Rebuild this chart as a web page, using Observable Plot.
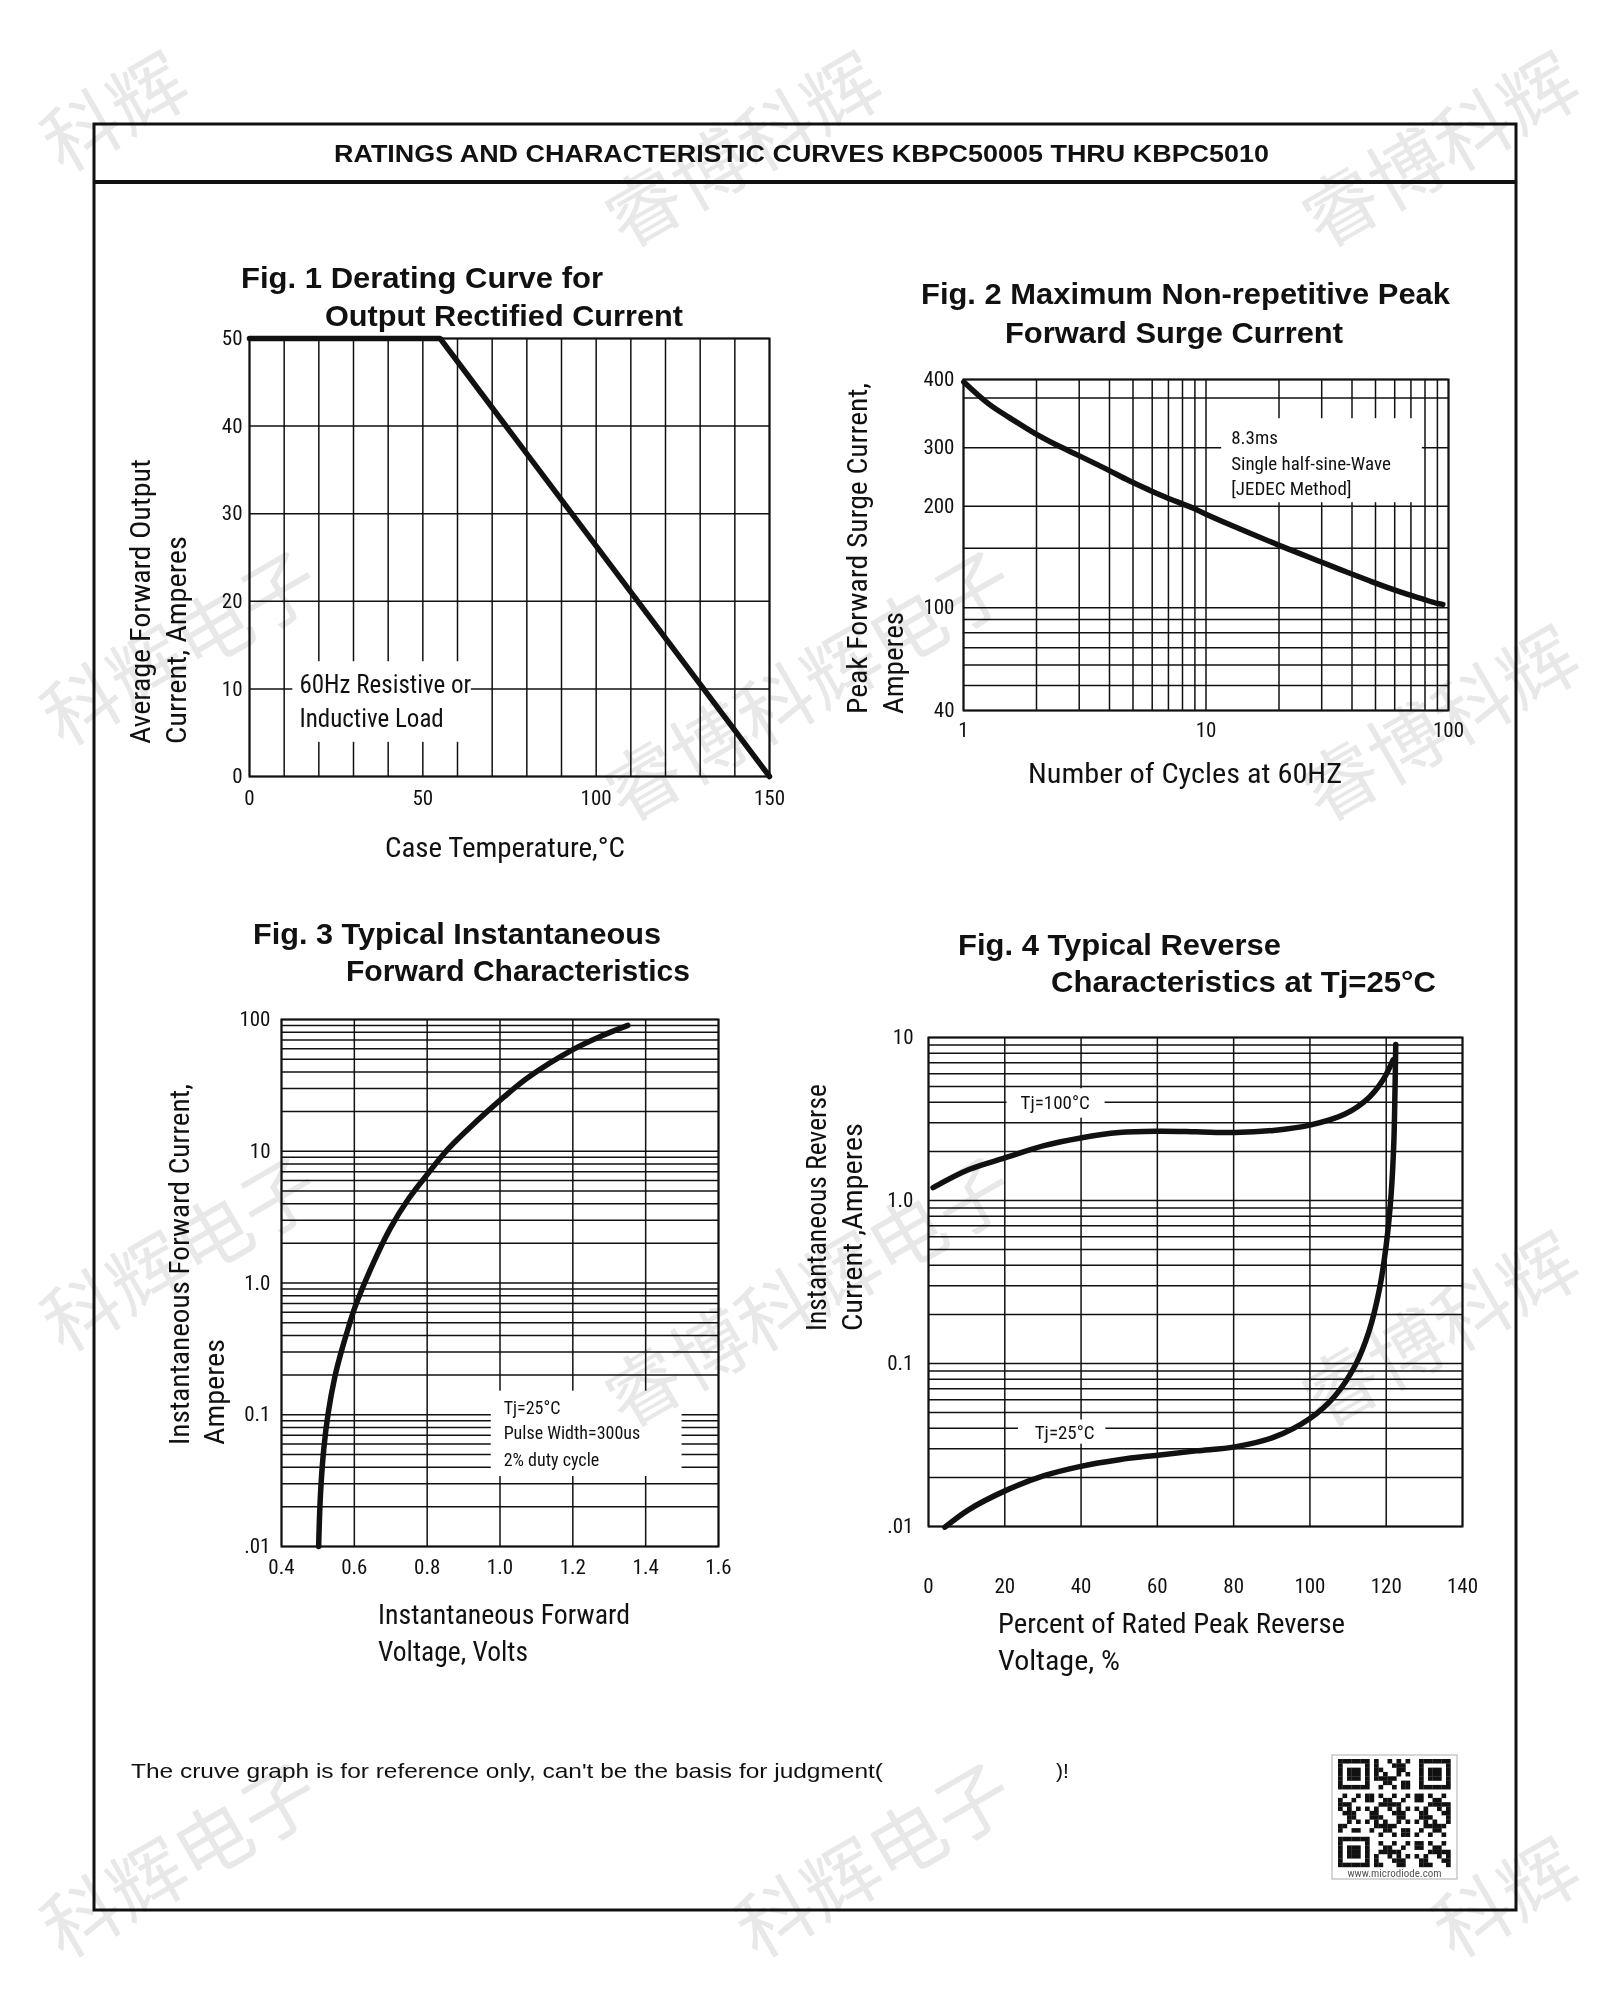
<!DOCTYPE html>
<html><head><meta charset="utf-8">
<script src="https://cdn.jsdelivr.net/npm/d3@7"></script>
<script src="https://cdn.jsdelivr.net/npm/@observablehq/plot@0.6"></script>
<style>
body{margin:0;background:#fff;}
#page{position:relative;width:1601px;height:2000px;background:#fff;overflow:hidden;}
#page svg{position:absolute;}
</style></head><body><div id="page"></div>
<script>
// ---------------- DATA ----------------
// Fig. 1 Derating curve
const fig1Temp = [0, 55, 150];
const fig1Current = [50, 50, 0];
const fig1XGrid = [0,10,20,30,40,50,60,70,80,90,100,110,120,130,140,150];
const fig1YGrid = [0,10,20,30,40,50];
const fig1XTicks = [0,50,100,150];
const fig1YTicks = [0,10,20,30,40,50];

// Fig. 2 Surge current
const fig2Cycles = [1.003,1.27,1.54,1.96,2.40,2.99,3.85,4.80,5.82,6.82,7.94,8.93,10,13.0,19.7,29.9,38.0,47.5,57.8,67.9,78.9,89,94.8];
const fig2Surge = [396,361,341,319,304,284,259.5,239,224,213,203.7,196.9,189.4,174.4,153.9,136.6,127.6,120,113.9,109.5,105.9,103.2,102.3];
const fig2XGrid = [1,2,3,4,5,6,7,8,9,10,20,30,40,50,60,70,80,90,100];
const fig2YGrid = [40,50,60,70,80,90,100,150,200,300,370,400];
const fig2XTicks = [1,10,100];
const fig2YTicks = [40,100,200,300,400];
const fig2YBreaks = [40,100,200,300,400];

// Fig. 3 Forward characteristics
const fig3Voltage = [0.502,0.507,0.516,0.528,0.546,0.565,0.583,0.601,0.649,0.699,0.749,0.798,0.859,0.932,0.999,1.078,1.200,1.280,1.351];
const fig3Current = [0.010,0.0248,0.0546,0.102,0.191,0.307,0.452,0.647,1.355,2.61,4.36,6.55,10.5,16.5,24.2,36.4,59.0,75.2,90.2];
const fig3XGrid = [0.4,0.6,0.8,1.0,1.2,1.4,1.6];
const fig3YGrid = [0.01,0.02,0.03,0.04,0.05,0.06,0.07,0.08,0.09,
                   0.1,0.2,0.3,0.4,0.5,0.6,0.7,0.8,0.9,
                   1,2,3,4,5,6,7,8,9,
                   10,20,30,40,50,60,70,80,90,100];
const fig3XTicks = [0.4,0.6,0.8,1.0,1.2,1.4,1.6];
const fig3XTickLabels = ["0.4","0.6","0.8","1.0","1.2","1.4","1.6"];
const fig3YTicks = [0.01,0.1,1,10,100];
const fig3YTickLabels = [".01","0.1","1.0","10","100"];

// Fig. 4 Reverse characteristics
const fig4Percent100 = [1.2,10.6,20.2,30.3,39.9,50,60.1,70.2,80.3,90.4,100,109.2,115.5,119.1,121.8];
const fig4Current100 = [1.20,1.55,1.83,2.17,2.42,2.61,2.66,2.64,2.61,2.69,2.90,3.39,4.29,5.46,7.30];
const fig4Percent25 = [4.3,10.6,20.2,30.3,39.9,50,60.1,70.2,80.3,90.4,100,106.5,111.9,115.5,118.2,120,121.3,122,122.3,122.5];
const fig4Current25 = [0.0099,0.0127,0.0166,0.0205,0.0234,0.0257,0.0274,0.0291,0.0308,0.0352,0.046,0.063,0.0975,0.158,0.284,0.532,1.10,2.28,4.72,9.07];
const fig4XGrid = [0,20,40,60,80,100,120,140];
const fig4YGrid = [0.01,0.02,0.03,0.04,0.05,0.06,0.07,0.08,0.09,
                   0.1,0.2,0.3,0.4,0.5,0.6,0.7,0.8,0.9,
                   1,2,3,4,5,6,7,8,9,10];
const fig4XTicks = [0,20,40,60,80,100,120,140];
const fig4YTicks = [0.01,0.1,1,10];
const fig4YTickLabels = [".01","0.1","1.0","10"];

// ---------------- RENDER ----------------
const page = document.getElementById("page");
const FONT = '"Liberation Sans Narrow","Arial Narrow","Roboto Condensed","DejaVu Sans Condensed","Liberation Sans",sans-serif';
const BFONT = '"Liberation Sans Narrow","Arial Narrow","Liberation Sans",Arial,sans-serif';
const ARIAL = '"Liberation Sans",Arial,sans-serif';
const INK = "#111";

function layout(frame, box) {
  return {
    width: box.w, height: box.h,
    marginLeft: frame.l - box.x, marginRight: box.x + box.w - frame.r,
    marginTop: frame.t - box.y, marginBottom: box.y + box.h - frame.b
  };
}
function addPlot(box, opts) {
  const svg = Plot.plot(opts);
  svg.style.left = box.x + "px";
  svg.style.top = box.y + "px";
  page.appendChild(svg);
  return svg;
}
const baseStyle = {background: "transparent", fontFamily: FONT, fontSize: "21px", color: INK, overflow: "visible"};
const grid = {stroke: INK, strokeWidth: 1.5};
const curve = {stroke: INK, strokeWidth: 5.5, curve: "catmull-rom", strokeLinejoin: "round"};
const zip = (a, b) => a.map((v, i) => ({x: v, y: b[i]}));

// background overlay: border, header, titles, labels, footer, QR
const ov = d3.select(page).append("svg")
  .attr("width", 1601).attr("height", 2000)
  .style("left", "0px").style("top", "0px");
ov.append("rect").attr("x", 94).attr("y", 124).attr("width", 1422).attr("height", 1786)
  .attr("fill", "none").attr("stroke", INK).attr("stroke-width", 3);
ov.append("line").attr("x1", 94).attr("x2", 1516).attr("y1", 182).attr("y2", 182)
  .attr("stroke", INK).attr("stroke-width", 4);

function txt(d) {
  const t = ov.append("text").text(d.t)
    .attr("font-family", d.family || (d.bold ? BFONT : FONT))
    .attr("font-size", d.size)
    .attr("font-weight", d.bold ? "bold" : "normal")
    .attr("fill", INK);
  if (d.rot) t.attr("transform", `translate(${d.x},${d.y}) rotate(-90)`);
  else t.attr("x", d.x).attr("y", d.y);
  if (d.len) t.attr("textLength", d.len).attr("lengthAdjust", "spacingAndGlyphs");
  return t;
}
const texts = [
  {t: "RATINGS AND CHARACTERISTIC CURVES KBPC50005 THRU KBPC5010", x: 334, y: 162, size: 24, bold: true, len: 935, family: ARIAL},
  {t: "Fig. 1 Derating Curve for", x: 241, y: 288, size: 30, bold: true, len: 362},
  {t: "Output Rectified Current", x: 325, y: 326, size: 30, bold: true, len: 358},
  {t: "Fig. 2 Maximum Non-repetitive Peak", x: 921, y: 304, size: 30, bold: true, len: 529},
  {t: "Forward Surge Current", x: 1005, y: 343, size: 30, bold: true, len: 338},
  {t: "Fig. 3 Typical Instantaneous", x: 253, y: 944, size: 30, bold: true, len: 408},
  {t: "Forward Characteristics", x: 346, y: 981, size: 30, bold: true, len: 344},
  {t: "Fig. 4 Typical Reverse", x: 958, y: 955, size: 30, bold: true, len: 323},
  {t: "Characteristics at Tj=25°C", x: 1051, y: 992, size: 30, bold: true, len: 385},
  {t: "Case Temperature,°C", x: 385, y: 857, size: 27, len: 240},
  {t: "Number of Cycles at 60HZ", x: 1028, y: 783, size: 27, len: 314},
  {t: "Instantaneous Forward", x: 378, y: 1624, size: 27, len: 252},
  {t: "Voltage, Volts", x: 378, y: 1661, size: 27, len: 150},
  {t: "Percent of Rated Peak  Reverse", x: 998, y: 1633, size: 27, len: 347},
  {t: "Voltage, %", x: 998, y: 1670, size: 27, len: 122},
  {t: "Average Forward Output", x: 150, y: 744, size: 27, rot: true, len: 285},
  {t: "Current, Amperes", x: 186, y: 744, size: 27, rot: true, len: 208},
  {t: "Peak Forward Surge Current,", x: 867, y: 714, size: 27, rot: true, len: 331},
  {t: "Amperes", x: 903, y: 714, size: 27, rot: true, len: 102},
  {t: "Instantaneous Forward Current,", x: 189, y: 1445, size: 27, rot: true, len: 361},
  {t: "Amperes", x: 224, y: 1445, size: 27, rot: true, len: 106},
  {t: "Instantaneous Reverse", x: 826, y: 1331, size: 27, rot: true, len: 247},
  {t: "Current ,Amperes", x: 862, y: 1331, size: 27, rot: true, len: 208},
  {t: "The cruve graph is for reference only, can't be the basis for judgment(", x: 131, y: 1778, size: 21, len: 752, family: ARIAL},
  {t: ")!", x: 1056, y: 1778, size: 21, family: ARIAL}
];
texts.forEach(txt);

// QR code decoration
const qr = ov.append("g");
qr.append("rect").attr("x", 1332).attr("y", 1755).attr("width", 125).attr("height", 124)
  .attr("fill", "white").attr("stroke", "#bbb").attr("stroke-width", 1.2);
const N = 25, qx = 1338, qy = 1759, ms = 4.5;
const finder = (i, j) => {
  for (const [ci, cj] of [[0,0],[0,N-7],[N-7,0]]) {
    const a = i - ci, b = j - cj;
    if (a >= 0 && a < 7 && b >= 0 && b < 7) {
      return (a === 0 || a === 6 || b === 0 || b === 6 || (a >= 2 && a <= 4 && b >= 2 && b <= 4)) ? 1 : 0;
    }
    if (a >= -1 && a <= 7 && b >= -1 && b <= 7) return 0;
  }
  return -1;
};
for (let i = 0; i < N; i++) for (let j = 0; j < N; j++) {
  let f = finder(i, j);
  if (f === -1) f = ((i * 31 + j * 17 + i * j * 7) % 11) < 5 ? 1 : 0;
  if (f) qr.append("rect").attr("x", qx + j * ms).attr("y", qy + i * ms * 0.96)
    .attr("width", ms + 0.2).attr("height", ms * 0.96 + 0.2).attr("fill", "#111");
}
qr.append("text").text("www.microdiode.com").attr("x", 1394.5).attr("y", 1877)
  .attr("text-anchor", "middle").attr("font-family", FONT).attr("font-size", 11).attr("fill", "#555");

// ---------- Fig. 1 ----------
{
  const frame = {l: 249, r: 769, t: 338, b: 776}, box = {x: 185, y: 320, w: 615, h: 510};
  addPlot(box, {
    ...layout(frame, box), style: baseStyle,
    x: {domain: [0, 150], label: null}, y: {domain: [0, 50], label: null},
    marks: [
      Plot.ruleX(fig1XGrid, grid),
      Plot.ruleY(fig1YGrid, grid),
      Plot.rect([{x1: 12.5, x2: 64, y1: 3.9, y2: 13.1}], {x1: "x1", x2: "x2", y1: "y1", y2: "y2", fill: "white"}),
      Plot.text([{x: 14.4, y: 10.4, t: "60Hz Resistive or"}, {x: 14.4, y: 6.6, t: "Inductive Load"}],
        {x: "x", y: "y", text: "t", textAnchor: "start", fontSize: 25, fill: INK}),
      Plot.frame({stroke: INK, strokeWidth: 2}),
      Plot.line(zip(fig1Temp, fig1Current), {x: "x", y: "y", stroke: INK, strokeWidth: 5.5, strokeLinejoin: "miter"}),
      Plot.axisX(fig1XTicks, {tickSize: 0, tickPadding: 14, label: null, fontSize: 21}),
      Plot.axisY(fig1YTicks, {tickSize: 0, tickPadding: 7, label: null, fontSize: 21})
    ]
  });
}

// ---------- Fig. 2 ----------
{
  const frame = {l: 963, r: 1448, t: 379, b: 710}, box = {x: 900, y: 360, w: 580, h: 400};
  const L = layout(frame, box);
  const yb = L.height - L.marginBottom, H = frame.b - frame.t;
  const breakFrac = [0, 0.3106, 0.617, 0.794, 1];
  addPlot(box, {
    ...L, style: baseStyle,
    x: {type: "log", domain: [1, 100], label: null},
    y: {type: "log", domain: fig2YBreaks, range: breakFrac.map(f => yb - f * H), label: null},
    marks: [
      Plot.ruleX(fig2XGrid, grid),
      Plot.ruleY(fig2YGrid, grid),
      Plot.rect([{x1: 11.6, x2: 78, y1: 205, y2: 339}], {x1: "x1", x2: "x2", y1: "y1", y2: "y2", fill: "white"}),
      Plot.text([{x: 12.7, y: 312, t: "8.3ms"}, {x: 12.7, y: 269, t: "Single half-sine-Wave"}, {x: 12.7, y: 226, t: "[JEDEC Method]"}],
        {x: "x", y: "y", text: "t", textAnchor: "start", fontSize: 19, fill: INK}),
      Plot.frame({stroke: INK, strokeWidth: 2}),
      Plot.line(zip(fig2Cycles, fig2Surge), {x: "x", y: "y", ...curve}),
      Plot.axisX(fig2XTicks, {tickSize: 0, tickPadding: 12, label: null, fontSize: 21, tickFormat: d => String(d)}),
      Plot.axisY(fig2YTicks, {tickSize: 0, tickPadding: 9, label: null, fontSize: 21, tickFormat: d => String(d)})
    ]
  });
}

// ---------- Fig. 3 ----------
{
  const frame = {l: 281, r: 718, t: 1019, b: 1546}, box = {x: 220, y: 1000, w: 540, h: 600};
  const xl = new Map(fig3XTicks.map((d, i) => [d, fig3XTickLabels[i]]));
  const yl = new Map(fig3YTicks.map((d, i) => [d, fig3YTickLabels[i]]));
  addPlot(box, {
    ...layout(frame, box), style: baseStyle,
    x: {domain: [0.4, 1.6], label: null},
    y: {type: "log", domain: [0.01, 100], label: null},
    marks: [
      Plot.ruleX(fig3XGrid, grid),
      Plot.ruleY(fig3YGrid, grid),
      Plot.rect([{x1: 0.976, x2: 1.50, y1: 0.034, y2: 0.151}], {x1: "x1", x2: "x2", y1: "y1", y2: "y2", fill: "white"}),
      Plot.text([{x: 1.01, y: 0.112, t: "Tj=25°C"}, {x: 1.01, y: 0.072, t: "Pulse Width=300us"}, {x: 1.01, y: 0.045, t: "2% duty cycle"}],
        {x: "x", y: "y", text: "t", textAnchor: "start", fontSize: 18, fill: INK}),
      Plot.frame({stroke: INK, strokeWidth: 2}),
      Plot.line(zip(fig3Voltage, fig3Current), {x: "x", y: "y", ...curve}),
      Plot.axisX(fig3XTicks, {tickSize: 0, tickPadding: 13, label: null, fontSize: 21, tickFormat: d => xl.get(d)}),
      Plot.axisY(fig3YTicks, {tickSize: 0, tickPadding: 11, label: null, fontSize: 21, tickFormat: d => yl.get(d)})
    ]
  });
}

// ---------- Fig. 4 ----------
{
  const frame = {l: 928, r: 1462, t: 1037, b: 1526}, box = {x: 870, y: 1015, w: 630, h: 610};
  const yl = new Map(fig4YTicks.map((d, i) => [d, fig4YTickLabels[i]]));
  addPlot(box, {
    ...layout(frame, box), style: baseStyle,
    x: {domain: [0, 140], label: null},
    y: {type: "log", domain: [0.01, 10], label: null},
    marks: [
      Plot.ruleX(fig4XGrid, grid),
      Plot.ruleY(fig4YGrid, grid),
      Plot.rect([{x1: 20.6, x2: 46.3, y1: 3.2, y2: 4.85}, {x1: 23.6, x2: 46.5, y1: 0.032, y2: 0.045}],
        {x1: "x1", x2: "x2", y1: "y1", y2: "y2", fill: "white"}),
      Plot.text([{x: 33.2, y: 3.95, t: "Tj=100°C"}, {x: 35.7, y: 0.0375, t: "Tj=25°C"}],
        {x: "x", y: "y", text: "t", textAnchor: "middle", fontSize: 19, fill: INK}),
      Plot.frame({stroke: INK, strokeWidth: 2}),
      Plot.line(zip(fig4Percent100, fig4Current100), {x: "x", y: "y", ...curve}),
      Plot.line(zip(fig4Percent25, fig4Current25), {x: "x", y: "y", ...curve}),
      Plot.axisX(fig4XTicks, {tickSize: 0, tickPadding: 52, label: null, fontSize: 21}),
      Plot.axisY(fig4YTicks, {tickSize: 0, tickPadding: 15, label: null, fontSize: 21, tickFormat: d => yl.get(d)})
    ]
  });
}

// watermark overlay (each glyph placed separately, only glyphs lying fully inside the page)
const wm = d3.select(page).append("svg")
  .attr("width", 1601).attr("height", 2000)
  .style("left", "0px").style("top", "0px")
  .style("pointer-events", "none").style("mix-blend-mode", "multiply");
const WM = "睿博科辉电子", WS = 76, ang = -30 * Math.PI / 180;
for (const cy of [108, 682, 1288, 1894]) for (const cx of [112, 806, 1503]) {
  [...WM].forEach((ch, k) => {
    const off = (k - 2.5) * WS;
    const px = cx + Math.cos(ang) * off, py = cy + Math.sin(ang) * off;
    if (px < 62 || px > 1539 || py < 62 || py > 1938) return;
    wm.append("text").text(ch)
      .attr("transform", `translate(${px.toFixed(1)},${py.toFixed(1)}) rotate(-30)`)
      .attr("text-anchor", "middle").attr("dominant-baseline", "central")
      .attr("font-family", '"Noto Sans CJK SC",sans-serif').attr("font-size", WS)
      .attr("fill", "#e8e8e8");
  });
}
</script></body></html>
